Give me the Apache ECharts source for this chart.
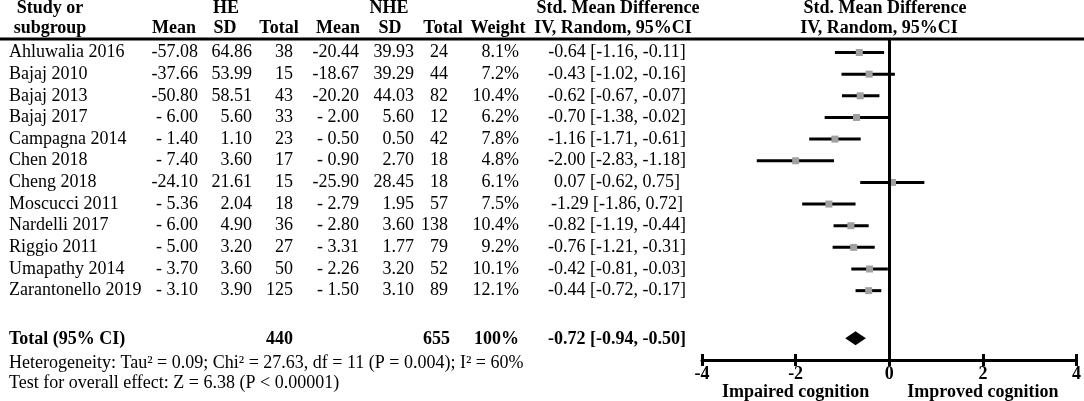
<!DOCTYPE html>
<html><head><meta charset="utf-8">
<script src="https://cdn.jsdelivr.net/npm/echarts@6/dist/echarts.min.js"></script>
<style>html,body{margin:0;padding:0;background:#fff}#c{width:1084px;height:401px}</style>
</head><body><div id="c"></div>
<script>
// ---- data ----
const studies = ["Ahluwalia 2016","Bajaj 2010","Bajaj 2013","Bajaj 2017","Campagna 2014","Chen 2018","Cheng 2018","Moscucci 2011","Nardelli 2017","Riggio 2011","Umapathy 2014","Zarantonello 2019"];
const heMean = [-57.08,-37.66,-50.80,-6.00,-1.40,-7.40,-24.10,-5.36,-6.00,-5.00,-3.70,-3.10];
const heSD = [64.86,53.99,58.51,5.60,1.10,3.60,21.61,2.04,4.90,3.20,3.60,3.90];
const heTotal = [38,15,43,33,23,17,15,18,36,27,50,125];
const nheMean = [-20.44,-18.67,-20.20,-2.00,-0.50,-0.90,-25.90,-2.79,-2.80,-3.31,-2.26,-1.50];
const nheSD = [39.93,39.29,44.03,5.60,0.50,2.70,28.45,1.95,3.60,1.77,3.20,3.10];
const nheTotal = [24,44,82,12,42,18,18,57,138,79,52,89];
const weight = [8.1,7.2,10.4,6.2,7.8,4.8,6.1,7.5,10.4,9.2,10.1,12.1];
const smdLabel = ["-0.64 [-1.16, -0.11]","-0.43 [-1.02, -0.16]","-0.62 [-0.67, -0.07]","-0.70 [-1.38, -0.02]","-1.16 [-1.71, -0.61]","-2.00 [-2.83, -1.18]","0.07 [-0.62, 0.75]","-1.29 [-1.86, 0.72]","-0.82 [-1.19, -0.44]","-0.76 [-1.21, -0.31]","-0.42 [-0.81, -0.03]","-0.44 [-0.72, -0.17]"];
const smdEst = [-0.64,-0.43,-0.62,-0.70,-1.16,-2.00,0.07,-1.29,-0.82,-0.76,-0.42,-0.44];
const smdLo = [-1.16,-1.02,-1.01,-1.38,-1.71,-2.83,-0.62,-1.86,-1.19,-1.21,-0.81,-0.72];
const smdHi = [-0.11,0.12,-0.21,-0.02,-0.61,-1.18,0.75,-0.72,-0.44,-0.31,-0.03,-0.17];
const totalHE = 440, totalNHE = 655, totalWeight = "100%";
const totalEst = -0.72, totalLo = -0.94, totalHi = -0.50;
const totalLabel = "-0.72 [-0.94, -0.50]";
const xTicks = [-4,-2,0,2,4];
const heterogeneity = "Heterogeneity: Tau\u00b2 = 0.09; Chi\u00b2 = 27.63, df = 11 (P = 0.004); I\u00b2 = 60%";
const overallTest = "Test for overall effect: Z = 6.38 (P < 0.00001)";
const leftDir = "Impaired cognition", rightDir = "Improved cognition";

// ---- layout ----
const FONT = "'Liberation Serif','Times New Roman',serif";
const FS = 18;
const totalRow = 13.2;
function fmtMean(v){ return Math.abs(v) < 10 ? "- " + Math.abs(v).toFixed(2) : v.toFixed(2); }

const chart = echarts.init(document.getElementById('c'), null, {renderer:'canvas'});
const rows = studies.map((s,i)=>[i, smdEst[i], smdLo[i], smdHi[i]]);
chart.setOption({
  animation:false,
  backgroundColor:'#fff',
  grid:{left:702, right:5, top:39, bottom:41},
  xAxis:[{
    type:'value', min:xTicks[0], max:xTicks[xTicks.length-1], interval:2, position:'bottom',
    axisLine:{show:true, onZero:false, lineStyle:{color:'#000', width:3}},
    axisTick:{show:true, length:6, lineStyle:{color:'#000', width:3}},
    axisLabel:{fontFamily:FONT, fontWeight:'bold', fontSize:FS, color:'#000', margin:5},
    splitLine:{show:false}
  },{
    type:'value', min:xTicks[0], max:xTicks[xTicks.length-1], interval:2, position:'bottom',
    axisLine:{show:false, onZero:false},
    axisTick:{show:true, inside:true, length:6, lineStyle:{color:'#000', width:3}},
    axisLabel:{show:false}, splitLine:{show:false}
  }],
  yAxis:{type:'value', min:-0.624, max:14.203, inverse:true, show:false},
  series:[{
    type:'custom', xAxisIndex:0,
    data: rows,
    encode:{x:[1,2,3], y:0},
    renderItem:(params, api)=>{
      const y = api.value(0);
      const a = api.coord([api.value(2), y]);
      const b = api.coord([api.value(3), y]);
      const e = api.coord([api.value(1), y]);
      return {type:'group', children:[
        {type:'line', shape:{x1:a[0], y1:a[1], x2:b[0], y2:b[1]}, style:{stroke:'#000', lineWidth:3}},
        {type:'rect', shape:{x:e[0]-3.5, y:e[1]-3.5, width:7, height:7}, style:{fill:'#a0a0a0'}}
      ]};
    },
    markLine:{silent:true, symbol:'none', label:{show:false}, lineStyle:{color:'#000', width:3, type:'solid'}, data:[{xAxis:0}]}
  },{
    type:'custom', xAxisIndex:0,
    data:[[totalRow, totalEst, totalLo, totalHi]],
    encode:{x:[1,2,3], y:0},
    renderItem:(params, api)=>{
      const y = api.value(0);
      const l = api.coord([api.value(2), y]);
      const r = api.coord([api.value(3), y]);
      const c = api.coord([api.value(1), y]);
      return {type:'polygon', shape:{points:[[l[0],l[1]],[c[0],c[1]-7],[r[0],r[1]],[c[0],c[1]+7]]}, style:{fill:'#000'}};
    }
  }]
});

// ---- table text ----
const g = [];
function txt(s, x, y, align, bold){
  g.push({type:'text', x:x, y:y, silent:true, style:{text:String(s), fill:'#000', font:(bold?'bold ':'')+FS+'px '+FONT, textAlign:align, textVerticalAlign:'middle'}});
}
const rowY = i => chart.convertToPixel({yAxisIndex:0}, i);
const colX = i => chart.convertToPixel({xAxisIndex:0}, i);
// header
g.push({type:'line', shape:{x1:0, y1:39, x2:1084, y2:39}, style:{stroke:'#000', lineWidth:3}, silent:true});
const h1 = 8, h2 = 28.5;
txt("Study or", 50, h1, 'center', true);
txt("subgroup", 50, h2, 'center', true);
txt("HE", 226, h1, 'center', true);
txt("Mean", 174, h2, 'center', true);
txt("SD", 225, h2, 'center', true);
txt("Total", 279, h2, 'center', true);
txt("NHE", 389, h1, 'center', true);
txt("Mean", 338, h2, 'center', true);
txt("SD", 390, h2, 'center', true);
txt("Total", 443, h2, 'center', true);
txt("Weight", 498, h2, 'center', true);
txt("Std. Mean Difference", 618, h1, 'center', true);
txt("IV, Random, 95%CI", 613, h2, 'center', true);
txt("Std. Mean Difference", 885, h1, 'center', true);
txt("IV, Random, 95%CI", 879, h2, 'center', true);
studies.forEach((s,i)=>{
  const y = rowY(i);
  txt(s, 9, y, 'left');
  txt(fmtMean(heMean[i]), 198, y, 'right');
  txt(heSD[i].toFixed(2), 252, y, 'right');
  txt(heTotal[i], 293, y, 'right');
  txt(fmtMean(nheMean[i]), 359, y, 'right');
  txt(nheSD[i].toFixed(2), 414, y, 'right');
  txt(nheTotal[i], 448, y, 'right');
  txt(weight[i].toFixed(1)+"%", 519, y, 'right');
  txt(smdLabel[i], 617, y, 'center');
});
const ty = rowY(totalRow) + 1.5;
txt("Total (95% CI)", 9, ty, 'left', true);
txt(totalHE, 293, ty, 'right', true);
txt(totalNHE, 450, ty, 'right', true);
txt(totalWeight, 519, ty, 'right', true);
txt(totalLabel, 617, ty, 'center', true);
txt(heterogeneity, 9, 363, 'left');
txt(overallTest, 9, 383, 'left');
txt(leftDir, colX(-2), 392, 'center', true);
txt(rightDir, colX(2), 392, 'center', true);
chart.setOption({graphic:{elements:g}});
</script></body></html>
